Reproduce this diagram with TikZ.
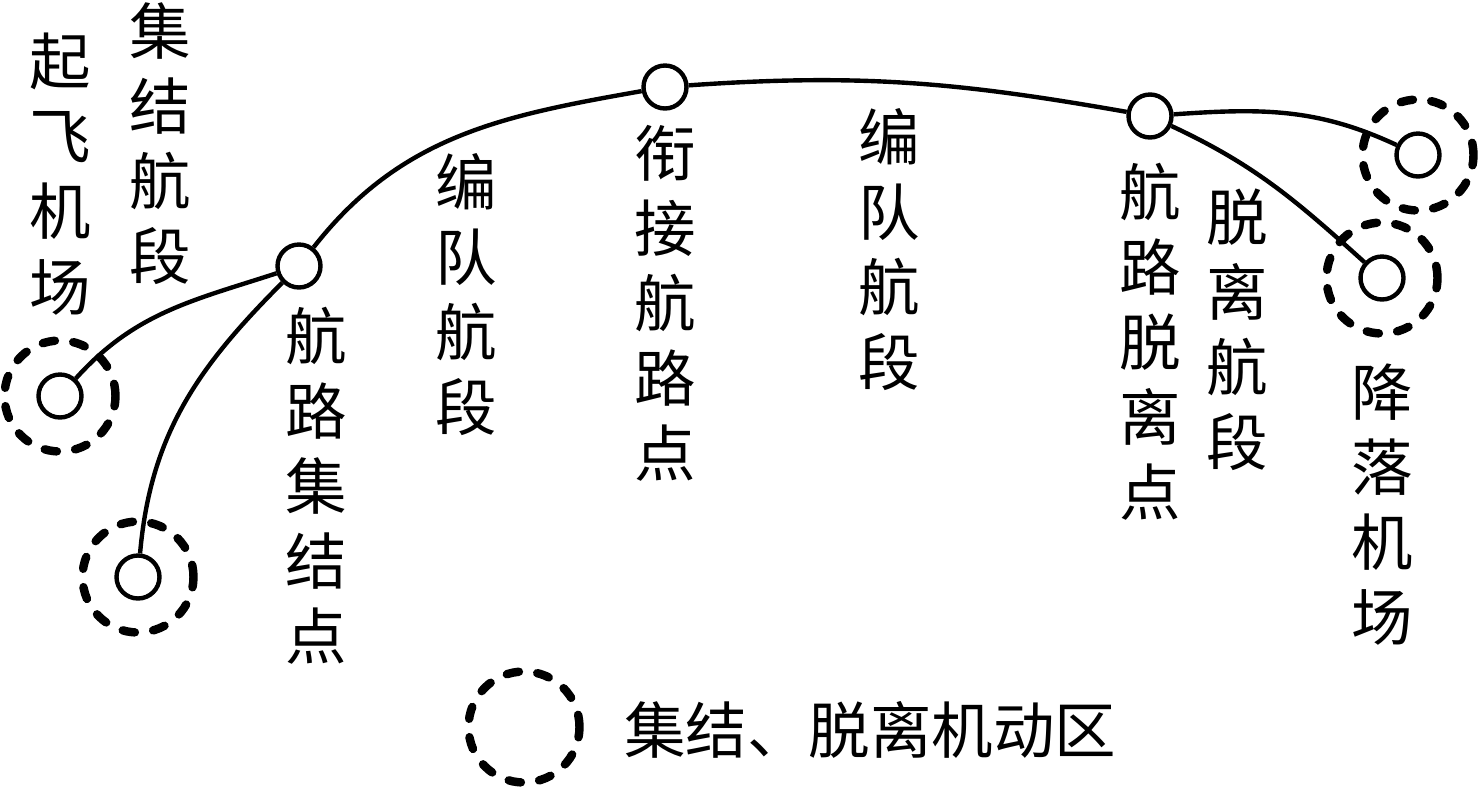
\documentclass[tikz,border=0pt]{standalone}
\usepackage{fontspec}
\newfontfamily\cjk{Noto Sans CJK SC}
\usetikzlibrary{positioning}

\tikzset{
  wpt/.style={circle,draw,line width=2.5pt,minimum size=0.86cm,inner sep=0pt},
  zone/.style={circle,draw,line width=4.8pt,line cap=round,dash pattern=on 7pt off 10.5pt,minimum size=2.22cm,inner sep=0pt},
  route/.style={line width=2.5pt},
  vlabel/.style={anchor=north,inner sep=0pt,align=center,font=\cjk\fontsize{35}{42.7}\selectfont},
  hlabel/.style={anchor=west,inner sep=0pt,font=\cjk\fontsize{35}{42.7}\selectfont}
}

\begin{document}
\begin{tikzpicture}[x=0.02cm,y=-0.02cm,line join=round]
  \useasboundingbox (0,0) rectangle (1480,788);

  \node[wpt] (T1) at (60,396) {};
  \node[wpt] (T2) at (138,577) {};
  \node[wpt] (R) at (299,266) {};
  \node[wpt] (J) at (665,87) {};
  \node[wpt] (D) at (1150,116) {};
  \node[wpt] (L1) at (1418,155) {};
  \node[wpt] (L2) at (1382,278) {};

  \node[zone] (Z1) at (T1) {};
  \node[zone] (Z2) at (T2) {};
  \node[zone] (Z3) at (L1) {};
  \node[zone] (Z4) at (L2) {};
  \node[zone] (Z5) at (524,727) {};

  \draw[route] (T1) to[out=48,in=198] (R);
  \draw[route] (T2) to[out=85,in=225] (R);
  \draw[route] (R) to[out=52,in=190] (J);
  \draw[route] (J) to[out=4,in=170] (D);
  \draw[route] (D) to[out=4,in=155] (L1);
  \draw[route] (D) to[out=-25,in=138] (L2);

  \node[vlabel] (n1) at (60,33) {起\\飞\\机\\场};
  \node[vlabel] (n2) at (160,2) {集\\结\\航\\段};
  \node[vlabel] (n3) at (316,307) {航\\路\\集\\结\\点};
  \node[vlabel] (n4) at (466,153) {编\\队\\航\\段};
  \node[vlabel] (n5) at (665,125) {衔\\接\\航\\路\\点};
  \node[vlabel] (n6) at (889,108) {编\\队\\航\\段};
  \node[vlabel] (n7) at (1150,163) {航\\路\\脱\\离\\点};
  \node[vlabel] (n8) at (1237,188) {脱\\离\\航\\段};
  \node[vlabel] (n9) at (1382,363) {降\\落\\机\\场};
  \node[hlabel] (leg) at (624,730) {集结、脱离机动区};
\end{tikzpicture}
\end{document}
